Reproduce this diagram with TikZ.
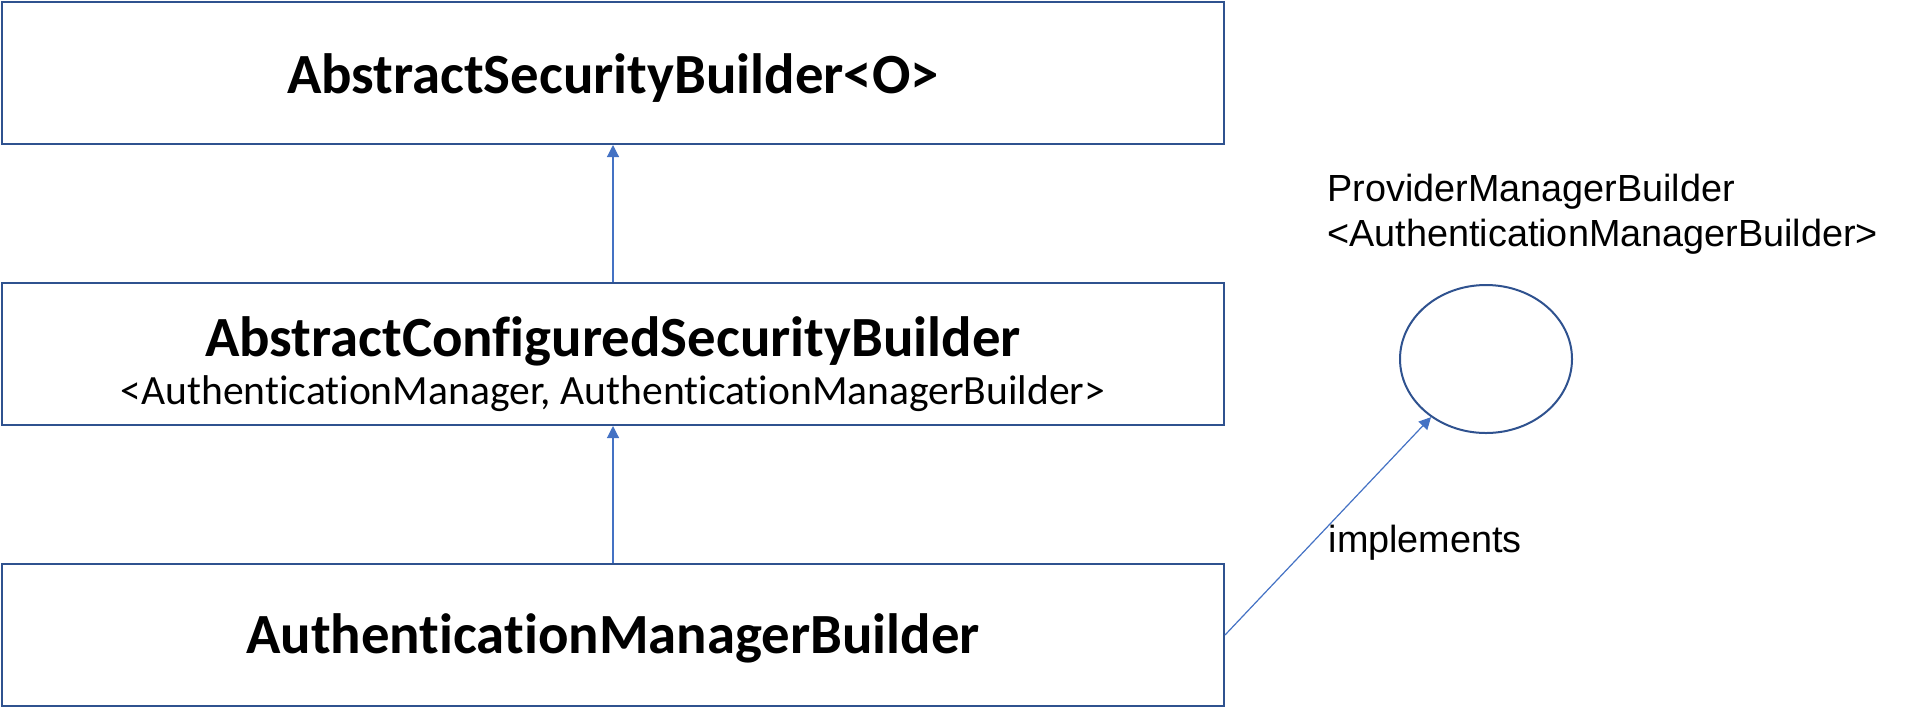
\documentclass[tikz,border=0pt]{standalone}
\usepackage{fontspec}
\setmainfont{Liberation Sans}
\newfontfamily\carlito[Ligatures=CommonOff]{Carlito}
\usepackage{tikz}
\usetikzlibrary{arrows.meta,positioning,shapes.geometric}
\definecolor{boxcolor}{RGB}{47,82,143}
\definecolor{linkcolor}{RGB}{68,114,196}
\tikzset{
  classbox/.style={draw=boxcolor, line width=1pt, minimum width=611pt, minimum height=71pt, inner sep=0pt, align=center},
  ifaceln/.style={draw=boxcolor, line width=1pt, ellipse, minimum width=86pt, minimum height=74pt, inner sep=0pt},
  inheritln/.style={-{Triangle[length=6pt,width=6pt]}, line width=0.6pt, linkcolor},
  plaintxt/.style={inner sep=0pt, text=black, font=\fontsize{18.9}{22.5}\selectfont},
}
\newcommand{\bigname}{\carlito\bfseries\fontsize{28.4}{30}\selectfont}
\newcommand{\smallname}{\carlito\fontsize{20.8}{23}\selectfont}

\begin{document}
\begin{tikzpicture}[x=0.5pt, y=-0.5pt]
    \useasboundingbox (0,0) rectangle (1916,708);
    % class hierarchy
    \node[classbox] (asb) at (613,73) {\rule{0pt}{25pt}\bigname AbstractSecurityBuilder<O>};
    \node[classbox] (acsb) at (613,354) {\rule{0pt}{30pt}{\bigname AbstractConfiguredSecurityBuilder}\\[4pt]{\smallname <AuthenticationManager, AuthenticationManagerBuilder>}};
    \node[classbox] (amb) at (613,635) {\rule{0pt}{23pt}\bigname AuthenticationManagerBuilder};
    \draw[inheritln] (acsb) -- (asb);
    \draw[inheritln] (amb) -- (acsb);
    % interface
    \node[ifaceln] (pmb) at (1486,359) {};
    \node[plaintxt, anchor=north west, align=left] (pmbname) at (1327,174) {ProviderManagerBuilder\\<AuthenticationManagerBuilder>};
    \draw[inheritln] (amb.east) -- (pmb)
      node[plaintxt, midway, anchor=west, yshift=-8.5pt] (impl) {implements};
\end{tikzpicture}
\end{document}
